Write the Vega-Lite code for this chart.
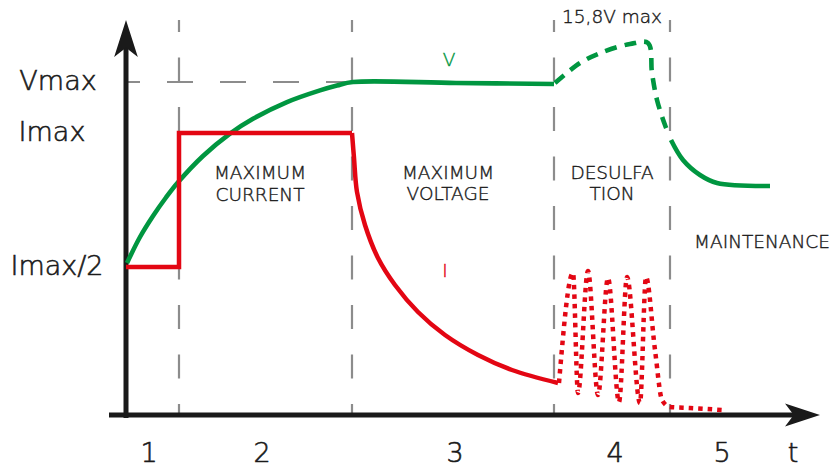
{
  "$schema": "https://vega.github.io/schema/vega-lite/v6.json",
  "width": 833,
  "height": 469,
  "padding": 0,
  "autosize": {"type": "fit", "contains": "padding"},
  "background": "white",
  "config": {"view": {"stroke": null}},
  "datasets": {
    "grid": [{"t": 53}, {"t": 226}, {"t": 428}, {"t": 544}],
    "vmaxline": [{"t": 226, "t2": 2, "v": 333}],
    "axes": [
      {"t": 0, "t2": 0, "v": -3, "v2": 377},
      {"t": -17, "t2": 680, "v": 0, "v2": 0}
    ],
    "yarrow": [{"t": 0, "v": 376.5}],
    "xarrow": [{"t": 676.5, "v": 0}],
    "vsolid1": [
      {"t": 1, "v": 152}, {"t": 14, "v": 178}, {"t": 27, "v": 199}, {"t": 40, "v": 217.5}, {"t": 52, "v": 232.7},
      {"t": 77, "v": 259}, {"t": 104, "v": 281.4}, {"t": 127, "v": 296.2}, {"t": 161, "v": 312.9},
      {"t": 194, "v": 324.6}, {"t": 211, "v": 329.5}, {"t": 227, "v": 333}, {"t": 330, "v": 332}, {"t": 428, "v": 331}
    ],
    "vdash": [
      {"t": 429, "v": 332}, {"t": 454, "v": 352}, {"t": 477, "v": 363}, {"t": 504, "v": 371},
      {"t": 522, "v": 372}, {"t": 526, "v": 342}, {"t": 531, "v": 315}, {"t": 539, "v": 290}, {"t": 543, "v": 280}
    ],
    "vsolid2": [
      {"t": 545, "v": 275}, {"t": 557, "v": 255}, {"t": 574, "v": 240}, {"t": 591, "v": 232}, {"t": 644, "v": 229}
    ],
    "istep": [
      {"i": 1, "t": 0, "v": 148}, {"i": 2, "t": 53, "v": 148}, {"i": 3, "t": 53, "v": 282}, {"i": 4, "t": 226, "v": 282}
    ],
    "idecay": [
      {"t": 226, "v": 282}, {"t": 228, "v": 257}, {"t": 231, "v": 223}, {"t": 239, "v": 190},
      {"t": 252, "v": 157}, {"t": 269, "v": 130}, {"t": 292, "v": 103}, {"t": 319, "v": 80},
      {"t": 352, "v": 60}, {"t": 386, "v": 45}, {"t": 432, "v": 32}
    ],
    "idots": [
      {"t": 433, "v": 32}, {"t": 447, "v": 142}, {"t": 452, "v": 22}, {"t": 462, "v": 144},
      {"t": 472, "v": 20}, {"t": 482, "v": 137}, {"t": 493, "v": 13}, {"t": 501, "v": 138},
      {"t": 514, "v": 12}, {"t": 520, "v": 138}, {"t": 529, "v": 65}, {"t": 536, "v": 15},
      {"t": 544, "v": 8}, {"t": 564, "v": 7}, {"t": 596, "v": 5}
    ],
    "ylabels": [
      {"t": -68, "v": 333, "text": "Vmax"},
      {"t": -74, "v": 282, "text": "Imax"},
      {"t": -69, "v": 148, "text": "Imax/2"}
    ],
    "xlabels": [
      {"t": 23, "v": -39, "text": "1"}, {"t": 136, "v": -39, "text": "2"}, {"t": 329, "v": -39, "text": "3"},
      {"t": 489, "v": -39, "text": "4"}, {"t": 596, "v": -39, "text": "5"}, {"t": 667, "v": -39, "text": "t"}
    ],
    "phases": [
      {"t": 134, "v": 242, "text": "MAXIMUM"}, {"t": 134, "v": 220, "text": "CURRENT"},
      {"t": 322, "v": 242, "text": "MAXIMUM"}, {"t": 322, "v": 221, "text": "VOLTAGE"},
      {"t": 486, "v": 242, "text": "DESULFA"}, {"t": 486, "v": 221, "text": "TION"},
      {"t": 636, "v": 173, "text": "MAINTENANCE"}
    ],
    "vlabel": [{"t": 323, "v": 355, "text": "V"}],
    "ilabel": [{"t": 319, "v": 144, "text": "I"}],
    "maxlabel": [{"t": 486, "v": 398, "text": "15,8V max"}]
  },
  "encoding": {
    "x": {"field": "t", "type": "quantitative", "scale": {"domain": [-126, 707], "nice": false, "zero": false}, "axis": null},
    "y": {"field": "v", "type": "quantitative", "scale": {"domain": [-54, 415], "nice": false, "zero": false}, "axis": null}
  },
  "layer": [
    {
      "data": {"name": "grid"},
      "transform": [{"calculate": "395", "as": "top"}, {"calculate": "2", "as": "bot"}],
      "mark": {"type": "rule", "color": "#8c8c8c", "strokeWidth": 2.2, "strokeDash": [24, 25.5], "strokeDashOffset": 12},
      "encoding": {
        "y": {"field": "top", "type": "quantitative"},
        "y2": {"field": "bot"}
      }
    },
    {
      "data": {"name": "vmaxline"},
      "mark": {"type": "rule", "color": "#8c8c8c", "strokeWidth": 2.2, "strokeDash": [26, 27]},
      "encoding": {"x2": {"field": "t2"}}
    },
    {
      "data": {"name": "axes"},
      "mark": {"type": "rule", "color": "#1a1a1a", "strokeWidth": 5},
      "encoding": {"x2": {"field": "t2"}, "y2": {"field": "v2"}}
    },
    {
      "data": {"name": "yarrow"},
      "mark": {"type": "point", "shape": "M0,-1L0.64,1L0,0.5L-0.64,1Z", "filled": true, "color": "#1a1a1a", "opacity": 1, "size": 1369, "strokeWidth": 0}
    },
    {
      "data": {"name": "xarrow"},
      "mark": {"type": "point", "shape": "M0,-1L0.66,1L0,0.5L-0.66,1Z", "filled": true, "color": "#1a1a1a", "opacity": 1, "size": 1225, "angle": 90, "strokeWidth": 0}
    },
    {
      "data": {"name": "vsolid1"},
      "mark": {"type": "line", "color": "#009640", "strokeWidth": 4.6, "interpolate": "catmull-rom"}
    },
    {
      "data": {"name": "vdash"},
      "mark": {"type": "line", "color": "#009640", "strokeWidth": 4.6, "interpolate": "catmull-rom", "strokeDash": [12, 8]}
    },
    {
      "data": {"name": "vsolid2"},
      "mark": {"type": "line", "color": "#009640", "strokeWidth": 4.6, "interpolate": "catmull-rom"}
    },
    {
      "data": {"name": "istep"},
      "mark": {"type": "line", "color": "#e30613", "strokeWidth": 4.5, "strokeJoin": "miter"},
      "encoding": {"order": {"field": "i", "type": "quantitative"}}
    },
    {
      "data": {"name": "idecay"},
      "mark": {"type": "line", "color": "#e30613", "strokeWidth": 4.5, "interpolate": "catmull-rom"}
    },
    {
      "data": {"name": "idots"},
      "mark": {"type": "line", "color": "#e30613", "strokeWidth": 4.5, "interpolate": "monotone", "strokeDash": [4.5, 5]}
    },
    {
      "data": {"name": "ylabels"},
      "mark": {"type": "text", "font": "DejaVu Sans", "fontWeight": 200, "fontSize": 27, "color": "#1a1a1a", "stroke": "#1a1a1a", "strokeWidth": 0.6, "align": "center", "baseline": "middle"},
      "encoding": {"text": {"field": "text"}}
    },
    {
      "data": {"name": "xlabels"},
      "mark": {"type": "text", "font": "DejaVu Sans", "fontWeight": 200, "fontSize": 27, "color": "#1a1a1a", "stroke": "#1a1a1a", "strokeWidth": 0.6, "align": "center", "baseline": "middle"},
      "encoding": {"text": {"field": "text"}}
    },
    {
      "data": {"name": "phases"},
      "mark": {"type": "text", "font": "DejaVu Sans", "fontWeight": 200, "fontSize": 18.5, "color": "#1a1a1a", "stroke": "#1a1a1a", "strokeWidth": 0.4, "align": "center", "baseline": "middle"},
      "encoding": {"text": {"field": "text"}}
    },
    {
      "data": {"name": "maxlabel"},
      "mark": {"type": "text", "font": "DejaVu Sans", "fontWeight": 200, "fontSize": 18.5, "color": "#1a1a1a", "stroke": "#1a1a1a", "strokeWidth": 0.4, "align": "center", "baseline": "middle"},
      "encoding": {"text": {"field": "text"}}
    },
    {
      "data": {"name": "vlabel"},
      "mark": {"type": "text", "font": "DejaVu Sans", "fontWeight": 200, "fontSize": 18.5, "color": "#009640", "stroke": "#009640", "strokeWidth": 0.4, "align": "center", "baseline": "middle"},
      "encoding": {"text": {"field": "text"}}
    },
    {
      "data": {"name": "ilabel"},
      "mark": {"type": "text", "font": "DejaVu Sans", "fontWeight": 200, "fontSize": 18.5, "color": "#e30613", "stroke": "#e30613", "strokeWidth": 0.4, "align": "center", "baseline": "middle"},
      "encoding": {"text": {"field": "text"}}
    }
  ]
}
